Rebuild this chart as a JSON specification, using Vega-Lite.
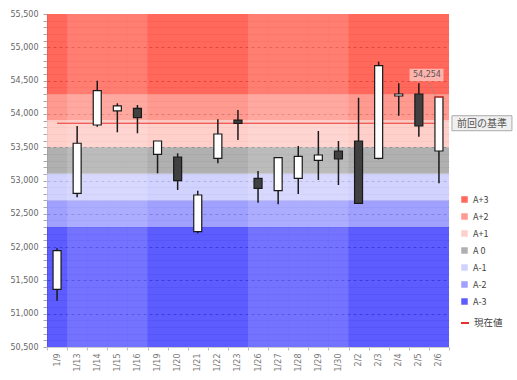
{
  "$schema": "https://vega.github.io/schema/vega-lite/v6.json",
  "width": 402,
  "height": 333,
  "autosize": "none",
  "padding": {"left": 47, "top": 14, "right": 68, "bottom": 33},
  "background": "white",
  "config": {"view": {"stroke": null}, "font": "DejaVu Sans"},
  "resolve": {"axis": {"x": "independent", "y": "independent"}},
  "datasets": {
    "candles": [
      {"date": "1/9", "open": 51366, "close": 51946, "high": 51982, "low": 51195},
      {"date": "1/13", "open": 52808, "close": 53559, "high": 53818, "low": 52748},
      {"date": "1/14", "open": 53833, "close": 54348, "high": 54499, "low": 53808},
      {"date": "1/15", "open": 54044, "close": 54119, "high": 54159, "low": 53724},
      {"date": "1/16", "open": 54084, "close": 53943, "high": 54134, "low": 53709},
      {"date": "1/19", "open": 53393, "close": 53593, "high": 53593, "low": 53108},
      {"date": "1/20", "open": 53353, "close": 52997, "high": 53408, "low": 52857},
      {"date": "1/21", "open": 52231, "close": 52782, "high": 52847, "low": 52207},
      {"date": "1/22", "open": 53333, "close": 53698, "high": 53919, "low": 53258},
      {"date": "1/23", "open": 53908, "close": 53859, "high": 54059, "low": 53608},
      {"date": "1/26", "open": 53033, "close": 52883, "high": 53143, "low": 52667},
      {"date": "1/27", "open": 52847, "close": 53342, "high": 53342, "low": 52643},
      {"date": "1/28", "open": 53033, "close": 53363, "high": 53518, "low": 52797},
      {"date": "1/29", "open": 53303, "close": 53383, "high": 53743, "low": 53008},
      {"date": "1/30", "open": 53443, "close": 53323, "high": 53593, "low": 52932},
      {"date": "2/2", "open": 53593, "close": 52658, "high": 54243, "low": 52658},
      {"date": "2/3", "open": 53333, "close": 54724, "high": 54784, "low": 53318},
      {"date": "2/4", "open": 54269, "close": 54299, "high": 54459, "low": 53973},
      {"date": "2/5", "open": 54299, "close": 53818, "high": 54459, "low": 53658},
      {"date": "2/6", "open": 53443, "close": 54254, "high": 54254, "low": 52958}
    ],
    "bands": [
      {"band": "A+3", "lo": 54300, "hi": 55500},
      {"band": "A+2", "lo": 53900, "hi": 54300},
      {"band": "A+1", "lo": 53500, "hi": 53900},
      {"band": "A 0", "lo": 53100, "hi": 53500},
      {"band": "A-1", "lo": 52700, "hi": 53100},
      {"band": "A-2", "lo": 52300, "hi": 52700},
      {"band": "A-3", "lo": 50500, "hi": 52300}
    ],
    "weeks": [
      {"date": "1/13"}, {"date": "1/14"}, {"date": "1/15"}, {"date": "1/16"},
      {"date": "1/26"}, {"date": "1/27"}, {"date": "1/28"}, {"date": "1/29"}, {"date": "1/30"}
    ],
    "ref": [
      {"date": "1/9", "value": 53860, "s": "現在値"},
      {"date": "2/6", "value": 53860, "s": "現在値"}
    ],
    "cur": [{"date": "2/6", "value": 54254, "label": "54,254"}],
    "refLabel": [{"date": "2/6", "value": 53860, "label": "前回の基準"}]
  },
  "layer": [
    {
      "data": {"name": "bands"},
      "mark": {"type": "rect", "opacity": 0.75},
      "encoding": {
        "y": {
          "field": "lo", "type": "quantitative", "title": null,
          "scale": {"domain": [50500, 55500], "nice": false, "zero": false},
          "axis": {
            "values": [50500,50600,50700,50800,50900,51000,51100,51200,51300,51400,51500,51600,51700,51800,51900,52000,52100,52200,52300,52400,52500,52600,52700,52800,52900,53000,53100,53200,53300,53400,53500,53600,53700,53800,53900,54000,54100,54200,54300,54400,54500,54600,54700,54800,54900,55000,55100,55200,55300,55400,55500],
            "format": ",",
            "labelExpr": "datum.value % 500 === 0 ? format(datum.value, ',') : ''",
            "labelFont": "DejaVu Sans", "labelFontSize": 8, "labelColor": "#666",
            "labelPadding": 5, "tickSize": 4, "tickColor": "#aaa", "domainColor": "#ccc",
            "grid": true,
            "gridColor": {"condition": {"test": "datum.value % 500 === 0", "value": "#000"}, "value": "#c4c4c4"},
            "gridOpacity": {"condition": {"test": "datum.value === 50500 || datum.value === 55500", "value": 0}, "value": 0.5},
            "gridDash": {"condition": {"test": "datum.value % 500 === 0", "value": [3, 3]}, "value": []}
          }
        },
        "y2": {"field": "hi"},
        "color": {
          "field": "band", "type": "nominal",
          "scale": {
            "domain": ["A+3", "A+2", "A+1", "A 0", "A-1", "A-2", "A-3"],
            "range": ["#ff3623", "#ff786b", "#ffbfb8", "#969696", "#c3c3ff", "#8080ff", "#2626ff"]
          },
          "legend": {
            "title": null, "orient": "none", "legendX": 413, "legendY": 181,
            "symbolType": "square", "symbolSize": 42, "symbolStrokeWidth": 0,
            "labelFont": "Noto Sans CJK JP", "labelFontSize": 9, "labelColor": "#444",
            "rowPadding": 7, "labelOffset": 4
          }
        }
      }
    },
    {
      "data": {"name": "weeks"},
      "mark": {"type": "rect", "fill": "white", "opacity": 0.14},
      "encoding": {
        "x": {
          "field": "date", "type": "ordinal", "title": null,
          "scale": {"domain": ["1/9","1/13","1/14","1/15","1/16","1/19","1/20","1/21","1/22","1/23","1/26","1/27","1/28","1/29","1/30","2/2","2/3","2/4","2/5","2/6"], "paddingInner": 0, "paddingOuter": 0},
          "axis": {
            "labelAngle": -90, "labelFont": "DejaVu Sans", "labelFontSize": 8, "labelColor": "#777",
            "tickBand": "extent", "tickSize": 3, "tickColor": "#bbb", "domainColor": "#ccc", "labelPadding": 3
          }
        }
      }
    },
    {
      "data": {"name": "ref"},
      "mark": {"type": "line", "strokeWidth": 1},
      "encoding": {
        "x": {"field": "date", "type": "ordinal", "axis": null},
        "y": {"field": "value", "type": "quantitative", "axis": null},
        "stroke": {
          "field": "s", "type": "nominal",
          "scale": {"domain": ["現在値"], "range": ["#e8302a"]},
          "legend": {
            "title": null, "orient": "none", "legendX": 413, "legendY": 304,
            "symbolType": "stroke", "symbolSize": 64, "symbolStrokeWidth": 2,
            "labelFont": "Noto Sans CJK JP", "labelFontSize": 9.5, "labelColor": "#444", "labelOffset": 4
          }
        }
      }
    },
    {
      "data": {"name": "candles"},
      "mark": {"type": "rule", "color": "#1a1a1a", "strokeWidth": 1.5},
      "encoding": {
        "x": {"field": "date", "type": "ordinal", "axis": null},
        "y": {"field": "low", "type": "quantitative", "axis": null},
        "y2": {"field": "high"}
      }
    },
    {
      "data": {"name": "candles"},
      "mark": {"type": "bar", "size": 8, "stroke": "#1a1a1a", "strokeWidth": 1.2},
      "encoding": {
        "x": {"field": "date", "type": "ordinal", "axis": null},
        "y": {"field": "open", "type": "quantitative", "axis": null},
        "y2": {"field": "close"},
        "fill": {"condition": {"test": "datum.close < datum.open", "value": "#404040"}, "value": "white"}
      }
    },
    {
      "data": {"name": "cur"},
      "layer": [
        {"mark": {"type": "tick", "color": "#e8302a", "size": 10, "thickness": 1.5}},
        {"mark": {"type": "point", "shape": "M-1.73,-1.665H0.27V-0.92H-1.73Z", "size": 1156, "filled": true, "fill": "white", "opacity": 0.5, "strokeWidth": 0}},
        {"mark": {"type": "point", "shape": "M-0.57,-0.8L-0.22,-0.1", "size": 1156, "filled": false, "stroke": "#888", "strokeWidth": 1, "strokeDash": [2, 2], "opacity": 1}},
        {"mark": {"type": "text", "dx": -12, "dy": -22, "font": "DejaVu Sans", "fontSize": 8, "color": "#555"}, "encoding": {"text": {"field": "label"}}}
      ],
      "encoding": {
        "x": {"field": "date", "type": "ordinal", "axis": null},
        "y": {"field": "value", "type": "quantitative", "axis": null}
      }
    },
    {
      "data": {"name": "refLabel"},
      "layer": [
        {"mark": {"type": "point", "shape": "M0.433,-0.25H2.433V0.25H0.433Z", "size": 3600, "filled": true, "fill": "#f0f0f0", "stroke": "#aaa", "strokeWidth": 1, "opacity": 1}},
        {"mark": {"type": "text", "dx": 43, "dy": 1, "font": "Noto Sans CJK JP", "fontSize": 10, "color": "#555"}, "encoding": {"text": {"field": "label"}}}
      ],
      "encoding": {
        "x": {"field": "date", "type": "ordinal", "axis": null},
        "y": {"field": "value", "type": "quantitative", "axis": null}
      }
    }
  ]
}
